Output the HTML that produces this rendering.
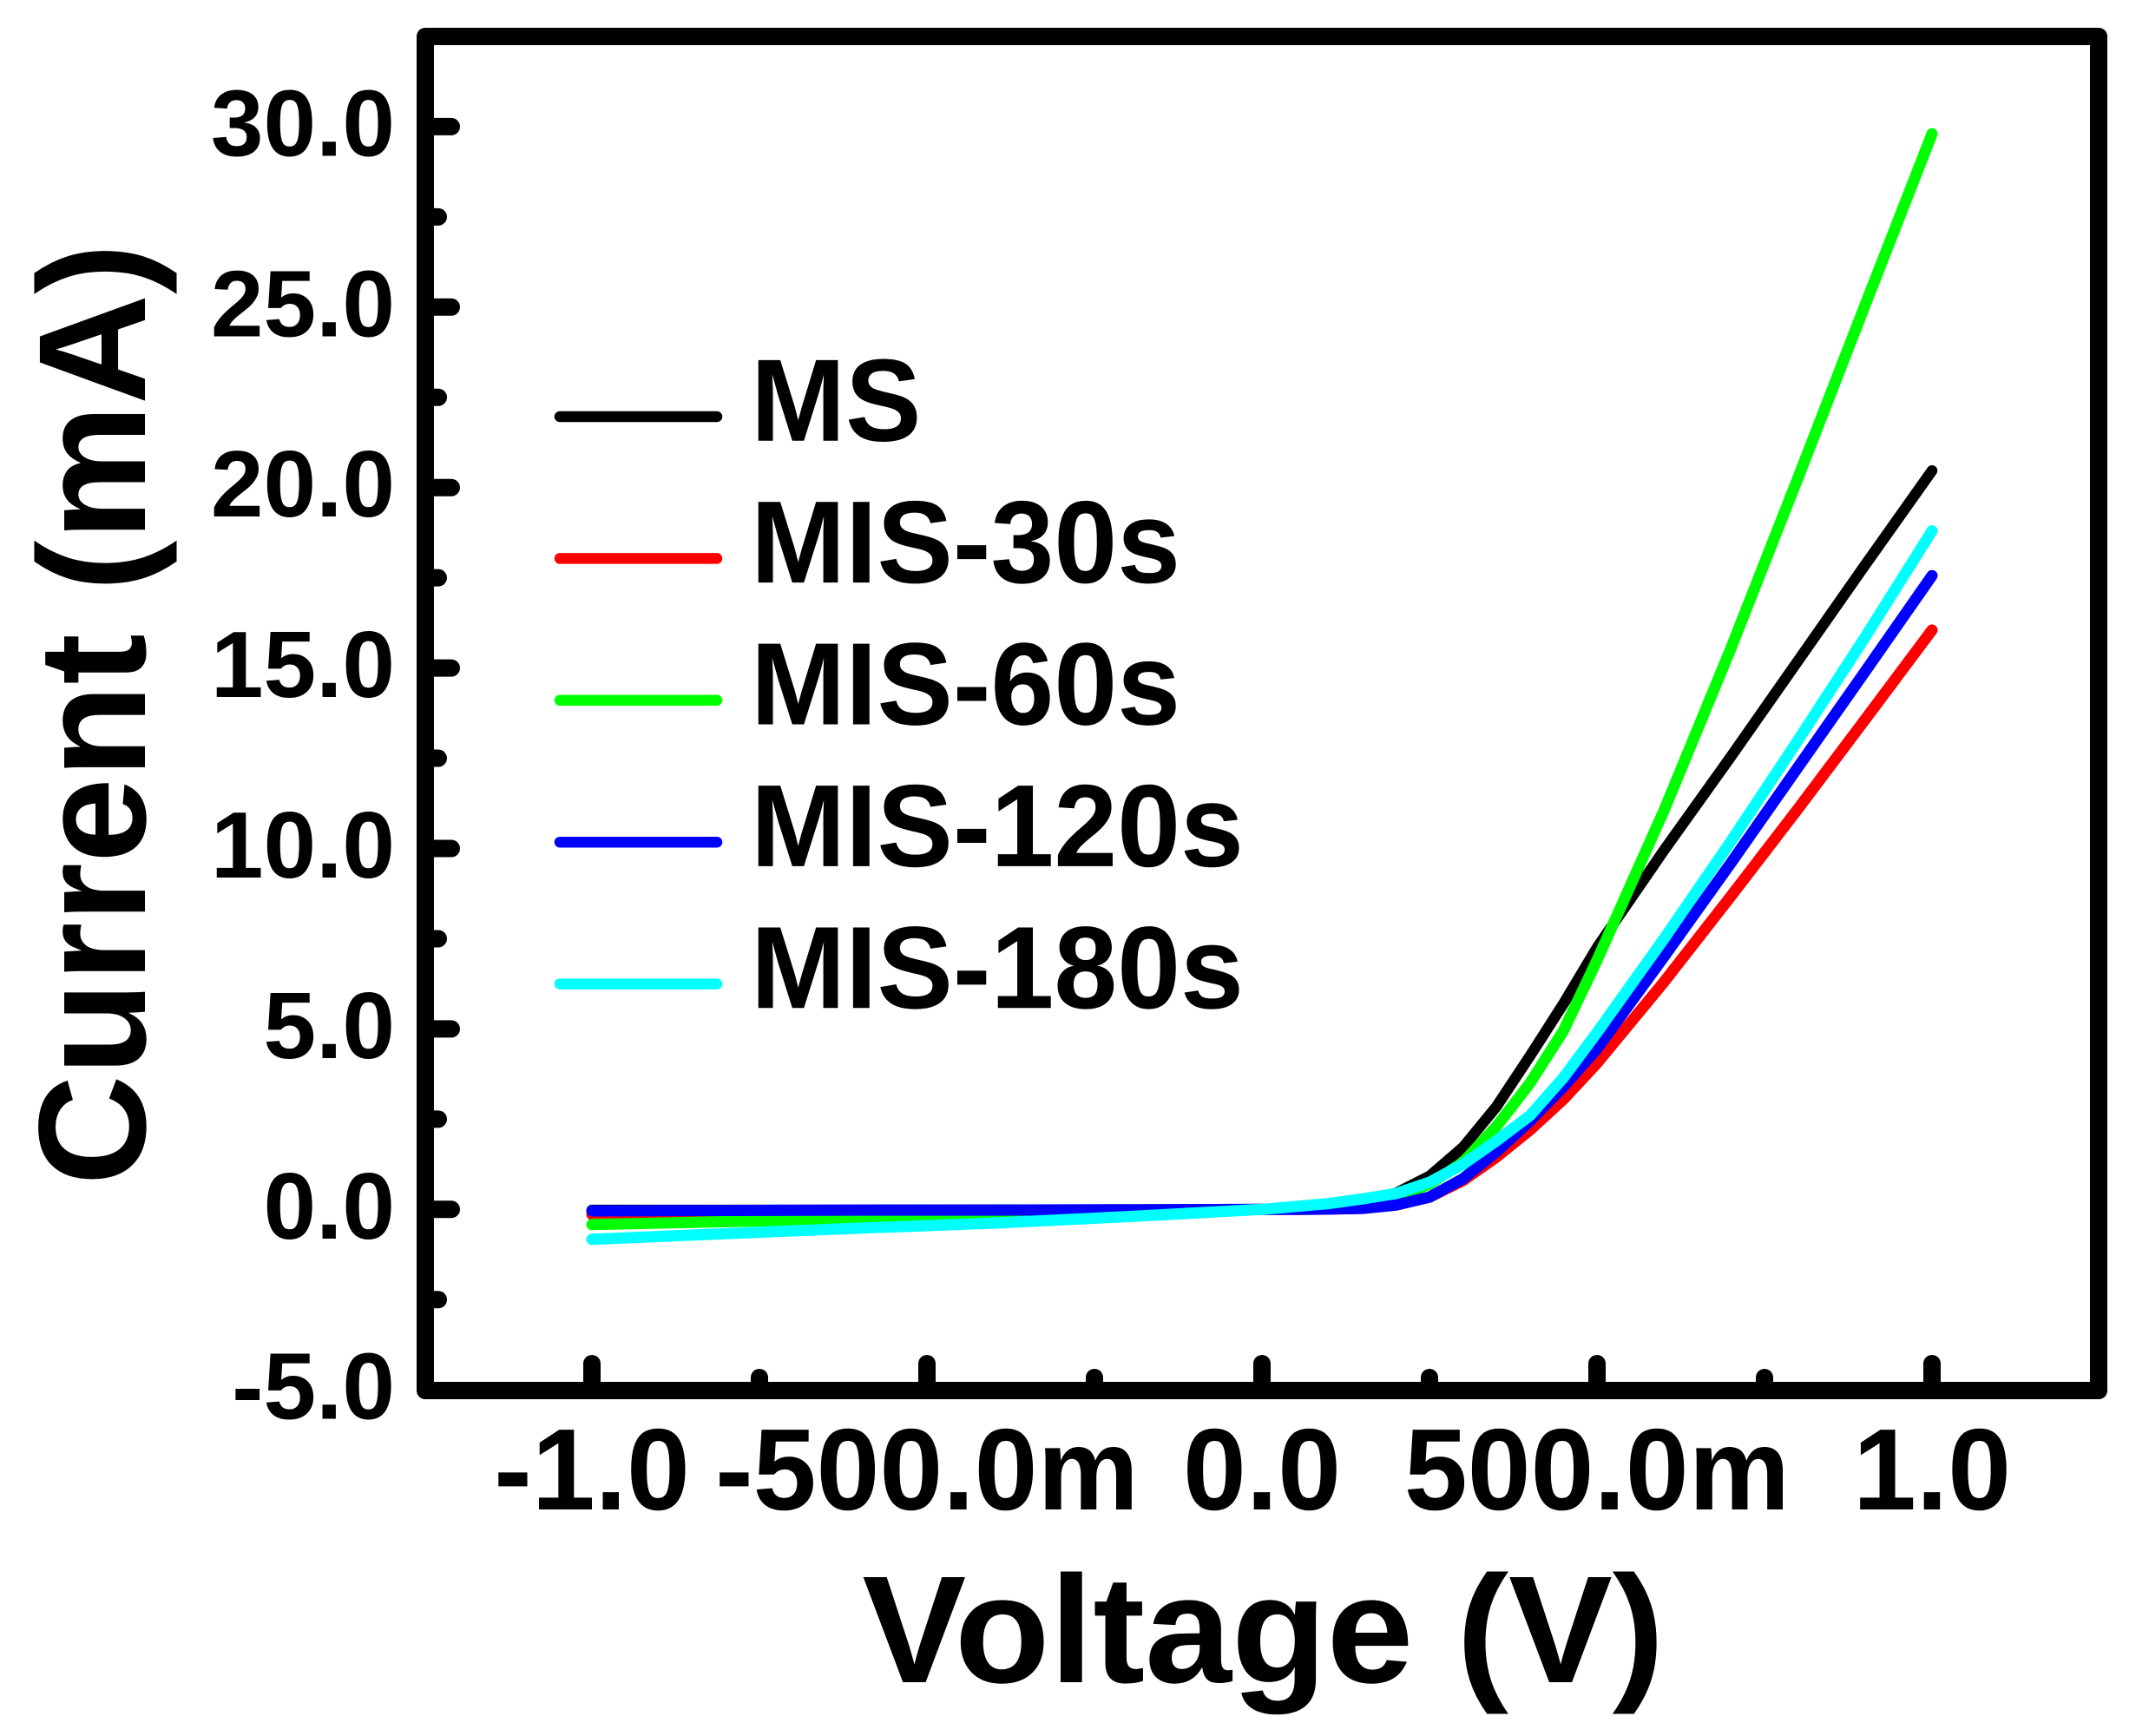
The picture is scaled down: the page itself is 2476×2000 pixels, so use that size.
<!DOCTYPE html>
<html lang="en">
<head>
<meta charset="utf-8">
<title>Current vs Voltage</title>
<style>
html,body{margin:0;padding:0;background:#fff;}
body{width:2476px;height:2000px;overflow:hidden;}
svg{display:block;}
text{font-family:"Liberation Sans",Arial,sans-serif;font-weight:700;fill:#000;}
</style>
</head>
<body>
<svg id="chart" xmlns="http://www.w3.org/2000/svg" width="2476" height="2000" viewBox="0 0 2476 2000">
  <rect x="0" y="0" width="2476" height="2000" fill="#ffffff"/>
  <g id="ticks"></g>
  <g id="series"></g>
  <rect x="490" y="42" width="1928" height="1560" fill="none" stroke="#000" stroke-width="20" stroke-linejoin="round"/>
  <g id="tick-labels"></g>
  <g id="legend"></g>
  <text text-anchor="middle" font-size="179.5" transform="translate(1455.5,1938) scale(1,0.98)">Voltage (V)</text>
  <text text-anchor="middle" font-size="176" transform="translate(167,823) rotate(-90)">Current (mA)</text>
</svg>
<script>
const voltage = [-1,-0.8,-0.6,-0.4,-0.2,0,0.05,0.1,0.15,0.2,0.25,0.3,0.35,0.4,0.45,0.5,0.6,0.7,0.8,0.9,1];
const currentMS = [-0.02,-0.02,-0.02,-0.01,-0.01,0,0.03,0.1,0.24,0.45,0.92,1.72,2.85,4.25,5.7,7.25,9.95,12.55,15.2,17.85,20.47];
const currentMIS30 = [-0.14,-0.11,-0.08,-0.05,-0.03,0,0,0.01,0.03,0.12,0.34,0.8,1.45,2.2,3.05,4.05,6.3,8.68,11.1,13.57,16.05];
const currentMIS60 = [-0.42,-0.34,-0.26,-0.17,-0.08,0,0.03,0.07,0.15,0.35,0.7,1.3,2.3,3.5,4.95,6.9,11.05,15.55,20.27,25.05,29.8];
const currentMIS120 = [-0.04,-0.03,-0.02,-0.02,-0.01,0,0,0.01,0.03,0.12,0.34,0.85,1.6,2.45,3.4,4.45,7.0,9.6,12.25,14.9,17.56];
const currentMIS180 = [-0.83,-0.67,-0.52,-0.38,-0.2,0,0.08,0.16,0.29,0.44,0.75,1.25,1.9,2.6,3.65,4.9,7.5,10.2,13.0,15.85,18.8];
const seriesNames = ["MS","MIS-30s","MIS-60s","MIS-120s","MIS-180s"];
const seriesColors = ["#000000","#ff0000","#00ff00","#0000ff","#00ffff"];
const xMajorTicks = [-1,-0.5,0,0.5,1];
const xMinorTicks = [-0.75,-0.25,0.25,0.75];
const xTickLabels = ["-1.0","-500.0m","0.0","500.0m","1.0"];
const yMajorTicks = [-5,0,5,10,15,20,25,30];
const yMinorTicks = [-2.5,2.5,7.5,12.5,17.5,22.5,27.5];
const yTickLabels = ["-5.0","0.0","5.0","10.0","15.0","20.0","25.0","30.0"];

const NS = "http://www.w3.org/2000/svg";
function xScale(v){ return 1454 + 772 * v; }
function yScale(i){ return 1393.3 - 41.58 * i; }
function make(tag, parent){
  const el = document.createElementNS(NS, tag);
  parent.appendChild(el);
  return el;
}

const ticks = document.getElementById("ticks");
function tickLine(x1,y1,x2,y2){
  const l = make("line", ticks);
  l.setAttribute("x1",x1); l.setAttribute("y1",y1);
  l.setAttribute("x2",x2); l.setAttribute("y2",y2);
  l.setAttribute("stroke","#000");
  l.setAttribute("stroke-width","20");
  l.setAttribute("stroke-linecap","round");
  return l;
}
xMajorTicks.forEach(function(v){
  const t = tickLine(xScale(v),1597,xScale(v),1571);
  
  
});
xMinorTicks.forEach(function(v){
  const t = tickLine(xScale(v),1597,xScale(v),1587);
  
  
});
yMajorTicks.slice(1).forEach(function(v){
  const t = tickLine(495,yScale(v),520,yScale(v));
  
  
});
yMinorTicks.forEach(function(v){
  const t = tickLine(495,yScale(v),505,yScale(v));
  
  
});

const labels = document.getElementById("tick-labels");
xMajorTicks.forEach(function(v,i){
  const t = make("text", labels);
  
  
  t.setAttribute("text-anchor","middle");
  t.setAttribute("font-size","131");
  t.setAttribute("transform","translate("+xScale(v)+",1739) scale(1,1.02)");
  t.textContent = xTickLabels[i];
});
yMajorTicks.forEach(function(v,i){
  const t = make("text", labels);
  
  
  t.setAttribute("text-anchor","end");
  t.setAttribute("font-size","109");
  t.setAttribute("transform","translate(455,"+(yScale(v)+33.5)+")");
  t.textContent = yTickLabels[i];
});

const seriesValues = [currentMS,currentMIS30,currentMIS60,currentMIS120,currentMIS180];
const seriesGroup = document.getElementById("series");
seriesValues.forEach(function(vals,k){
  const p = make("polyline", seriesGroup);
  
  
  p.setAttribute("fill","none");
  p.setAttribute("stroke",seriesColors[k]);
  p.setAttribute("stroke-width", k === 0 ? "12.5" : "13");
  p.setAttribute("stroke-linecap","round");
  p.setAttribute("stroke-linejoin","round");
  p.setAttribute("points", vals.map(function(c,j){ return xScale(voltage[j]).toFixed(1)+","+yScale(c).toFixed(1); }).join(" "));
});

const legend = document.getElementById("legend");
seriesNames.forEach(function(name,k){
  const rowY = 480 + 163.4 * k;
  const l = make("line", legend);
  
  
  l.setAttribute("x1","645"); l.setAttribute("x2","826");
  l.setAttribute("y1",rowY); l.setAttribute("y2",rowY);
  l.setAttribute("stroke",seriesColors[k]);
  l.setAttribute("stroke-width","12.5");
  l.setAttribute("stroke-linecap","round");
  const t = make("text", legend);
  
  
  t.setAttribute("font-size","131");
  t.setAttribute("transform","translate(865,"+(rowY+27.7)+") scale(1,1.03)");
  t.textContent = name;
});
</script>
</body>
</html>
